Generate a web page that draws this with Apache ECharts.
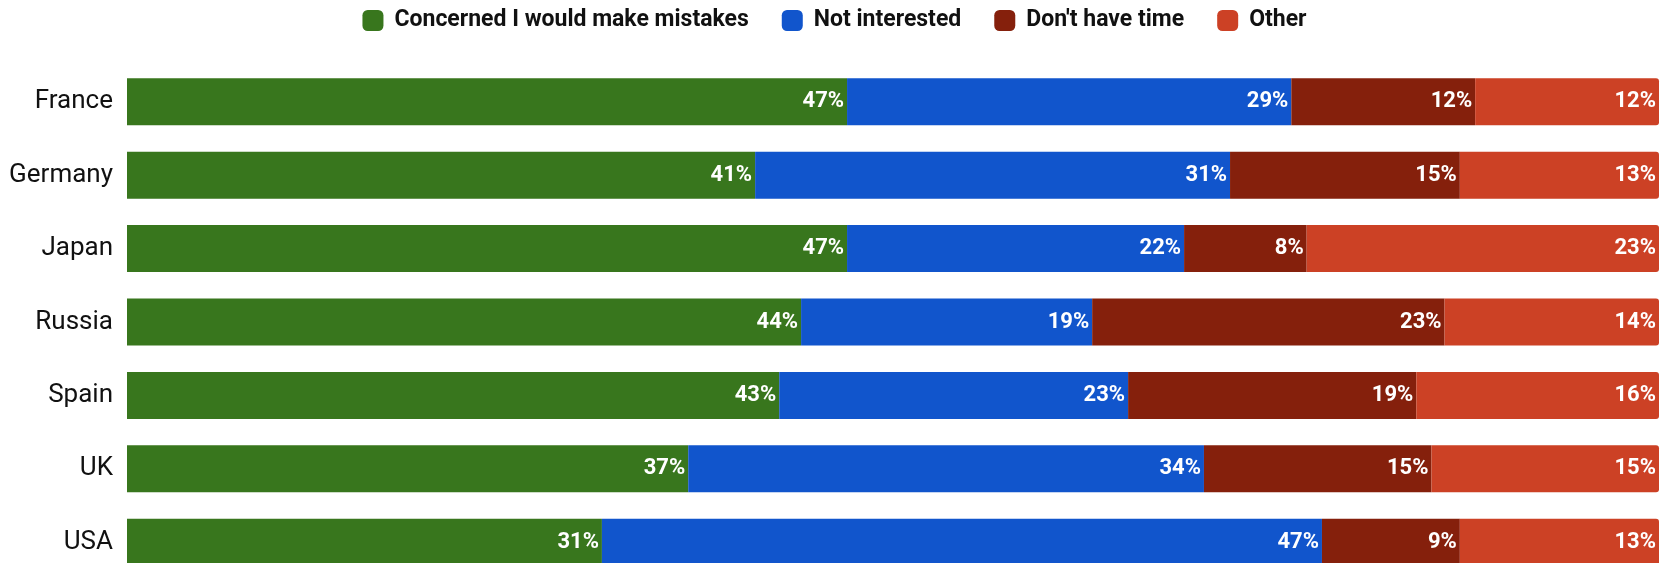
<!DOCTYPE html>
<html>
<head>
<meta charset="utf-8">
<script src="https://cdn.jsdelivr.net/npm/echarts@6/dist/echarts.min.js"></script>
<style>
  html, body { margin: 0; padding: 0; background: #fff; width: 1669px; height: 563px; overflow: hidden; }
  #frame { width: 1669px; height: 563px; overflow: hidden; }
  #chart { width: 1669px; height: 579px; }
</style>
</head>
<body>
<div id="frame"><div id="chart"></div></div>
<script>
// Reasons for not trying, by country (percent of respondents)
const countries = ['France', 'Germany', 'Japan', 'Russia', 'Spain', 'UK', 'USA'];
const seriesNames = ['Concerned I would make mistakes', 'Not interested', "Don't have time", 'Other'];
const concerned     = [47, 41, 47, 44, 43, 37, 31];
const notInterested = [29, 31, 22, 19, 23, 34, 47];
const noTime        = [12, 15,  8, 23, 19, 15,  9];
const other         = [12, 13, 23, 14, 16, 15, 13];
const colors = ['#38761d', '#1155cc', '#85200c', '#cc4125'];

const values = [concerned, notInterested, noTime, other];
// each row is drawn as a share of its own total so every bar spans the full width
const rowTotals = countries.map((_, i) => values.reduce((s, arr) => s + arr[i], 0));

const series = values.map((arr, k) => ({
  name: seriesNames[k],
  type: 'bar',
  stack: 'total',
  barWidth: 47,
  itemStyle: {
    color: colors[k],
    borderRadius: k === values.length - 1 ? [0, 3, 3, 0] : 0
  },
  label: {
    show: true,
    position: 'insideRight',
    distance: 3,
    color: '#ffffff',
    fontFamily: 'Roboto',
    fontWeight: 'bold',
    fontSize: 22,
    formatter: p => arr[p.dataIndex] + '%'
  },
  data: arr.map((v, i) => v / rowTotals[i] * 100)
}));

const chart = echarts.init(document.getElementById('chart'), null, { renderer: 'canvas' });
chart.setOption({
  animation: false,
  textStyle: { fontFamily: 'Roboto' },
  legend: {
    top: 4,
    left: 'center',
    itemWidth: 21,
    itemHeight: 21,
    itemGap: 33,
    icon: 'roundRect',
    textStyle: { fontFamily: 'Roboto', fontWeight: 'bold', fontSize: 23, color: '#111111', padding: [0, 0, 0, 6] },
    data: seriesNames
  },
  grid: { left: 127, right: 10, top: 65, bottom: 0 },
  xAxis: {
    type: 'value',
    min: 0,
    max: 100,
    show: false
  },
  yAxis: {
    type: 'category',
    inverse: true,
    data: countries,
    axisLine: { show: false },
    axisTick: { show: false },
    axisLabel: { fontFamily: 'Roboto', fontSize: 26, color: '#111111', margin: 14 }
  },
  series: series
});
</script>
</body>
</html>
